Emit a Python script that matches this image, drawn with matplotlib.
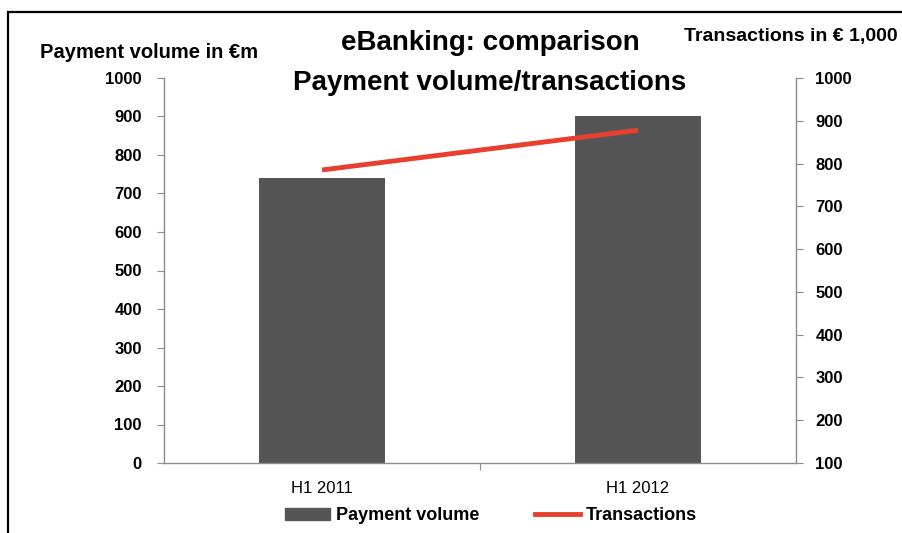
import matplotlib
matplotlib.use("Agg")
import matplotlib.pyplot as plt
from matplotlib import font_manager
from matplotlib.patches import Rectangle, Patch
from matplotlib.lines import Line2D

# data
categories = ["H1 2011", "H1 2012"]
payment_volume = [740, 900]      # left axis, in €m
transactions = [785, 878]        # right axis, in € 1,000
left_ticks = list(range(0, 1001, 100))
right_ticks = list(range(100, 1001, 100))

names = {f.name for f in font_manager.fontManager.ttflist}
fam = "Liberation Sans Narrow" if "Liberation Sans Narrow" in names else "Liberation Sans"
plt.rcParams["font.family"] = [fam, "DejaVu Sans"]

bar_color = "#555555"
line_color = "#E8402F"
spine_color = "#8c8c8c"

fig = plt.figure(figsize=(9.02, 5.33), dpi=100)
ax = fig.add_axes([164 / 902, 1 - 463 / 533, (796 - 164) / 902, (463 - 78) / 533])

x = list(range(len(categories)))
ax.bar(x, payment_volume, width=0.4, color=bar_color, zorder=2)
ax.set_xlim(-0.5, 1.5)
ax.set_ylim(0, 1000)
ax.set_yticks(left_ticks)
ax.set_xticks([0.5])
ax.set_xticklabels([""])
ax.tick_params(axis="x", length=5, color=spine_color, direction="out")
for i, c in enumerate(categories):
    ax.text(i, -0.065, c, transform=ax.get_xaxis_transform(), ha="center", va="center",
            fontsize=12)
ax.tick_params(axis="y", length=5, color=spine_color, labelsize=12, pad=11)
for lbl in ax.get_yticklabels():
    lbl.set_fontweight("bold")

ax2 = ax.twinx()
ax2.plot(x, transactions, color=line_color, lw=3.5, solid_capstyle="butt", zorder=3)
ax2.set_ylim(100, 1000)
ax2.set_yticks(right_ticks)
ax2.tick_params(axis="y", length=5, color=spine_color, labelsize=12, pad=9)
for lbl in ax2.get_yticklabels():
    lbl.set_fontweight("bold")

for a in (ax, ax2):
    a.spines["top"].set_visible(False)
    for s in ("left", "right", "bottom"):
        a.spines[s].set_color(spine_color)
        a.spines[s].set_linewidth(1.0)
ax.spines["right"].set_visible(False)
ax2.spines["left"].set_visible(False)
ax2.spines["bottom"].set_visible(False)

# titles and axis captions
fig.text(490 / 902, 1 - 43 / 533, "eBanking: comparison", ha="center", va="center",
         fontsize=20, fontweight="bold")
fig.text(490 / 902, 1 - 83 / 533, "Payment volume/transactions", ha="center", va="center",
         fontsize=20, fontweight="bold")
fig.text(40 / 902, 1 - 52 / 533, "Payment volume in €m", ha="left", va="center",
         fontsize=14.5, fontweight="bold")
fig.text(898 / 902, 1 - 37 / 533, "Transactions in € 1,000", ha="right", va="center",
         fontsize=14, fontweight="bold")

# legend
handles = [Patch(color=bar_color), Line2D([0], [0], color=line_color, lw=3.5)]
fig.legend(handles, ["Payment volume", "Transactions"], loc="center",
           bbox_to_anchor=(491 / 902, 1 - 516 / 533), ncol=2, frameon=False,
           prop={"weight": "bold", "size": 13}, handlelength=2.5, handleheight=0.6,
           handletextpad=0.3, columnspacing=3.1)

# outer border, cut off on the right and bottom as in the source
fig.patches.append(Rectangle((8 / 902, -0.1), 1.2, 1 - 12 / 533 + 0.1, transform=fig.transFigure,
                             fill=False, edgecolor="black", lw=1.6))

fig.savefig("out.png", dpi=100)
